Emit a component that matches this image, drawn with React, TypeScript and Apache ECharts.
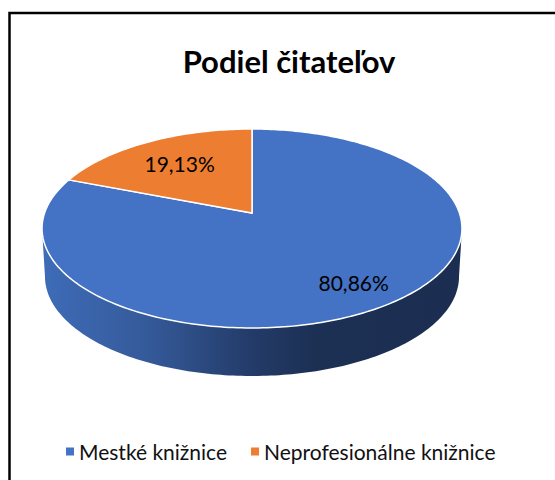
import React, { useEffect, useRef } from "react";
import * as echarts from "echarts";

const titleText = "Podiel čitateľov";
const categories = ["Mestké knižnice", "Neprofesionálne knižnice"];
const shares = [80.86, 19.13];
const sliceColors = ["#4472C4", "#ED7D31"];
const labelReach = [0.78, 0.67];

const FONT = "Lato, Carlito, Calibri, sans-serif";
const CX = 252;
const APEX_Y = 213;
const PERSPECTIVE = 0.1558;
const RX = 207.4;
const KY = 97.08;
const WALL_DROP = 48;
const WALL_SCALE = 0.986;

const total = shares.reduce((a, b) => a + b, 0);

function project(theta: number, reach = 1, scale = 1, drop = 0): number[] {
  const sx = Math.sin(theta) * reach;
  const sy = Math.cos(theta) * reach;
  const d = 1 + PERSPECTIVE * sy;
  return [CX + (scale * RX * sx) / d, APEX_Y + drop - (KY * sy) / d];
}

function arcPoints(a0: number, a1: number, scale = 1, drop = 0): number[][] {
  const pts: number[][] = [];
  const n = Math.max(2, Math.ceil(Math.abs(a1 - a0) / (Math.PI / 180)));
  for (let i = 0; i <= n; i++) {
    pts.push(project(a0 + ((a1 - a0) * i) / n, 1, scale, drop));
  }
  return pts;
}

function makeRender(index: number) {
  return (_params: any, api: any) => {
    const value = api.value(0) as number;
    const before = shares.slice(0, index).reduce((a, b) => a + b, 0);
    const a0 = (before / total) * Math.PI * 2;
    const a1 = ((before + value) / total) * Math.PI * 2;
    const children: any[] = [];

    // the rim is visible only on the front part of the disc
    const frontA = Math.PI / 2 + Math.asin(PERSPECTIVE);
    const frontB = Math.PI * 2 - frontA;
    const w0 = Math.max(a0, frontA);
    const w1 = Math.min(a1, frontB);
    if (w1 > w0) {
      const upper = arcPoints(w0, w1);
      const lower = arcPoints(w0, w1, WALL_SCALE, WALL_DROP).reverse();
      children.push({
        type: "polygon",
        shape: { points: upper.concat(lower) },
        style: {
          fill: new echarts.graphic.LinearGradient(0, 0, 1, 0, [
            { offset: 0, color: "#3E6CB8" },
            { offset: 0.25, color: "#355A9A" },
            { offset: 0.5, color: "#233B68" },
            { offset: 0.65, color: "#1C3054" },
            { offset: 1, color: "#1B2E52" },
          ]),
        },
      });
    }

    const apex = project(0, 0);
    children.push({
      type: "polygon",
      shape: { points: [apex].concat(arcPoints(a0, a1)) },
      style: { fill: sliceColors[index], stroke: "#FFFFFF", lineWidth: 1.5, lineJoin: "miter" },
    });

    const mid = project((a0 + a1) / 2, labelReach[index]);
    children.push({
      type: "text",
      style: {
        x: mid[0],
        y: mid[1],
        text: value.toFixed(2).replace(".", ",") + "%",
        font: `21px ${FONT}`,
        fill: "#000000",
        align: "center",
        verticalAlign: "middle",
      },
    });
    return { type: "group", children };
  };
}

export default function App() {
  const ref = useRef<HTMLDivElement>(null);
  useEffect(() => {
    const chart = echarts.init(ref.current!, undefined, { renderer: "svg" });
    chart.setOption({
      animation: false,
      backgroundColor: "#FFFFFF",
      title: {
        text: titleText,
        left: 284,
        top: 40,
        textAlign: "center",
        textStyle: { fontFamily: FONT, fontSize: 31, fontWeight: "bold", color: "#000000" },
      },
      legend: {
        left: 61,
        top: 436,
        icon: "rect",
        itemWidth: 8,
        itemHeight: 8,
        itemGap: 24,
        data: categories,
        selectedMode: false,
        textStyle: { fontFamily: FONT, fontSize: 21, color: "#111111", padding: [0, 0, 0, 0] },
      },
      graphic: [
        {
          type: "polyline",
          shape: { points: [[9.5, 490], [9.5, 13], [565, 13]] },
          style: { stroke: "#000000", lineWidth: 2.5, fill: "none" },
        },
      ],
      series: categories.map((name, i) => ({
        type: "custom",
        name,
        coordinateSystem: "none",
        silent: true,
        itemStyle: { color: sliceColors[i] },
        data: [[shares[i]]],
        renderItem: makeRender(i),
      })),
    });
    return () => chart.dispose();
  }, []);
  return (
    <div
      ref={ref}
      style={{ position: "absolute", left: 0, top: 0, width: 555, height: 480 }}
    />
  );
}
